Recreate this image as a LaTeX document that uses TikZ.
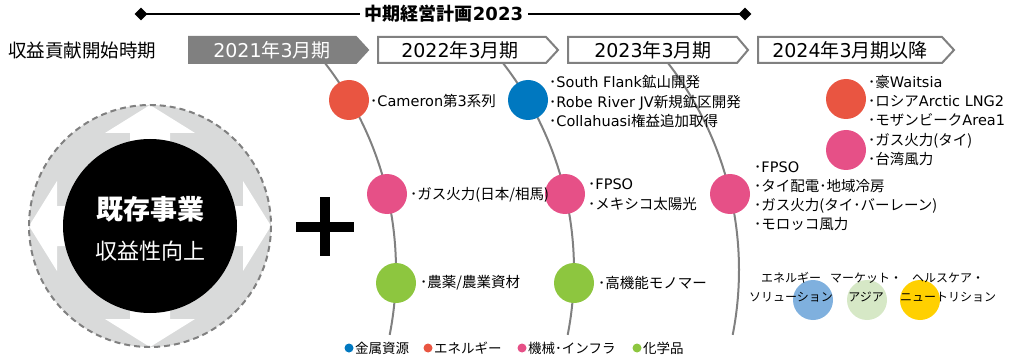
\documentclass[tikz,border=0pt]{standalone}
\usepackage{fontspec}
\setmainfont{Noto Sans CJK JP}
\newfontfamily\latinfont{DejaVu Sans}
\newcommand\latn[1]{{\latinfont #1}}
\usetikzlibrary{shapes.geometric}
\definecolor{cred}{RGB}{233,85,65}
\definecolor{cblue}{RGB}{0,120,192}
\definecolor{cpink}{RGB}{230,80,135}
\definecolor{cgreen}{RGB}{141,198,63}
\definecolor{cgray}{RGB}{128,128,128}
\definecolor{lgray}{RGB}{217,218,218}
\definecolor{lblue}{RGB}{127,176,222}
\definecolor{lgreen}{RGB}{214,232,198}
\definecolor{cyellow}{RGB}{255,208,0}
\begin{document}
\begin{tikzpicture}[x=1pt,y=-1pt,
  dot/.style={circle,minimum size=40pt,inner sep=0pt,fill=#1},
  ldot/.style={circle,minimum size=9pt,inner sep=0pt,fill=#1},
  lbl/.style={anchor=west,inner sep=0pt,align=left,font=\fontsize{14.5}{19.5}\selectfont},
  lbls/.style={anchor=west,inner sep=0pt,align=left,font=\fontsize{14.5}{19}\selectfont},
  leg/.style={anchor=west,inner sep=0pt,font=\fontsize{13.5}{16}\selectfont},
  seg/.style={inner sep=0pt,align=center,font=\fontsize{12}{19}\selectfont},
  boxline/.style={draw=cgray,line width=2pt,line join=miter},
  boxtxt/.style={inner sep=0pt,font=\fontsize{19}{22}\selectfont},
  arcline/.style={draw=cgray,line width=2pt},
  tip/.style={diamond,fill=black,inner sep=0pt,minimum size=13pt}]
\useasboundingbox (0,0) rectangle (1016,358);

% header
\node[tip] (dl) at (141,14) {};
\node[tip] (dr) at (745,14) {};
\node[inner sep=5pt,font=\fontsize{18}{20}\selectfont\bfseries] (plan) at (444,14) {中期経営計画\latn{\bfseries 2023}};
\draw[line width=2.6pt] (dl.center) -- (plan.west);
\draw[line width=2.6pt] (plan.east) -- (dr.center);

\node[anchor=west,inner sep=0pt,font=\fontsize{18.5}{20}\selectfont] (start) at (8,50) {収益貢献開始時期};

% year boxes
\draw[boxline,fill=cgray] (189,37) -- (356,37) -- (368,50) -- (356,63) -- (189,63) -- cycle;
\node[boxtxt,text=white] (y1) at (272,50) {\latn{2021}年\latn{3}月期};
\draw[boxline,fill=white] (378,37) -- (546,37) -- (558,50) -- (546,63) -- (378,63) -- cycle;
\node[boxtxt] (y2) at (460,50) {\latn{2022}年\latn{3}月期};
\draw[boxline,fill=white] (568,37) -- (737,37) -- (748,50) -- (737,63) -- (568,63) -- cycle;
\node[boxtxt] (y3) at (653,50) {\latn{2023}年\latn{3}月期};
\draw[boxline,fill=white] (758,37) -- (942,37) -- (954,50) -- (942,63) -- (758,63) -- cycle;
\node[boxtxt] (y4) at (850,50) {\latn{2024}年\latn{3}月期以降};

% arcs
\foreach \o in {0,178,343}
  \draw[arcline] plot[domain=-37.9:11.1,samples=80,smooth] ({59+\o+337*cos(\x)},{270+337*sin(\x)});

% emblem
\fill[lgray] (150,226) circle[radius=121];
\fill[white] (150,105) -- ++(45,28) -- ++(-25,0) -- ++(0,73) -- ++(73,0) -- ++(0,-25) -- (271,226)
  -- ++(-28,45) -- ++(0,-25) -- ++(-73,0) -- ++(0,73) -- ++(25,0) -- (150,347)
  -- ++(-45,-28) -- ++(25,0) -- ++(0,-73) -- ++(-73,0) -- ++(0,25) -- (29,226)
  -- ++(28,-45) -- ++(0,25) -- ++(73,0) -- ++(0,-73) -- ++(-25,0) -- cycle;
\node[circle,fill=black,minimum size=174pt,inner sep=0pt] (core) at (150,226) {};
\draw[cgray,line width=2pt,dash pattern=on 6pt off 4pt] (150,226) circle[radius=121];
\node[text=white,font=\fontsize{27}{30}\selectfont\bfseries] (t1) at (150,209) {既存事業};
\node[text=white,font=\fontsize{22}{24}\selectfont] (t2) at (150,251) {収益性向上};

% plus
\fill (296,222) rectangle (354,232);
\fill (320,197) rectangle (330,256);

% circles
\node[dot=cred] (c1) at (349,100) {};
\node[dot=cpink] (p1) at (387,194) {};
\node[dot=cgreen] (g1) at (396,283) {};
\node[dot=cblue] (b2) at (528,100) {};
\node[dot=cpink] (p2) at (565,194) {};
\node[dot=cgreen] (g2) at (574,283) {};
\node[dot=cpink] (p3) at (730,194) {};
\node[dot=cred] (r4) at (846,99) {};
\node[dot=cpink] (p4) at (846,150) {};

% labels
\node[lbl] (l1) at (370,101) {･\latn{Cameron}第\latn{3}系列};
\node[lbl] (l2) at (549,101.5) {･\latn{South Flank}鉱山開発\\･\latn{Robe River JV}新規鉱区開発\\･\latn{Collahuasi}権益追加取得};
\node[lbl] (l3) at (410,195) {･ガス火力(日本/相馬)};
\node[lbl] (l4) at (588,194.5) {･\latn{FPSO}\\･メキシコ太陽光};
\node[lbls] (l5) at (754,196.5) {･\latn{FPSO}\\･タイ配電･地域冷房\\･ガス火力(タイ･バーレーン)\\･モロッコ風力};
\node[lbls] (l6) at (868,100.5) {･豪\latn{Waitsia}\\･ロシア\latn{Arctic LNG2}\\･モザンビーク\latn{Area1}};
\node[lbls] (l7) at (868,149.5) {･ガス火力(タイ)\\･台湾風力};
\node[lbl] (l8) at (420,283) {･農薬/農業資材};
\node[lbl] (l9) at (598,283) {･高機能モノマー};

% bottom right segments
\node[dot=lblue] (s1) at (813,300) {};
\node[dot=lgreen] (s2) at (867,300) {};
\node[dot=cyellow] (s3) at (920,300) {};
\node[seg] (st1) at (791,287.5) {エネルギー\\ソリューション};
\node[seg] (st2) at (866,287.5) {マーケット・\\アジア};
\node[seg] (st3) at (948,287.5) {ヘルスケア・\\ニュートリション};

% legend
\node[ldot=cblue] (d1) at (349,348) {};
\node[leg] (e1) at (355,348) {金属資源};
\node[ldot=cred] (d2) at (428,348) {};
\node[leg] (e2) at (434,348) {エネルギー};
\node[ldot=cpink] (d3) at (522,348) {};
\node[leg] (e3) at (528,348) {機械･インフラ};
\node[ldot=cgreen] (d4) at (637,348) {};
\node[leg] (e4) at (643,348) {化学品};
\end{tikzpicture}
\end{document}
